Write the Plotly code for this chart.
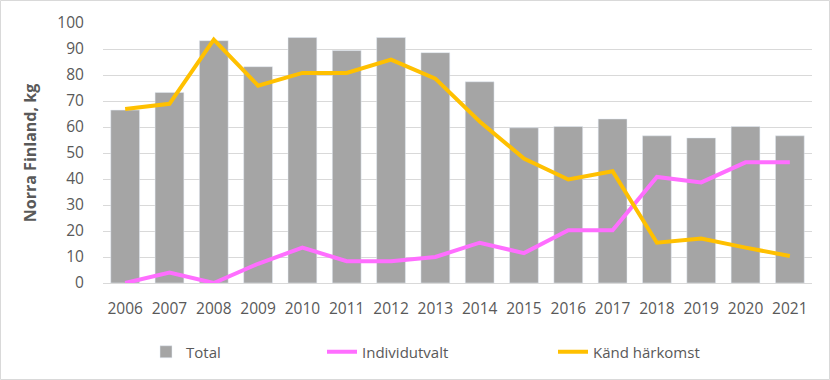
import plotly.graph_objects as go

years = [str(y) for y in range(2006, 2022)]
total = [66.5, 73.3, 93.2, 83.2, 94.4, 89.4, 94.4, 88.6, 77.4, 59.7, 60.2, 63.1, 56.6, 55.8, 60.2, 56.6]
individutvalt = [0, 4.0, 0, 7.4, 13.6, 8.4, 8.4, 10.0, 15.5, 11.5, 20.3, 20.3, 40.8, 38.7, 46.4, 46.4]
kand_harkomst = [66.9, 68.9, 93.6, 75.9, 80.8, 80.8, 85.9, 78.6, 62.1, 47.9, 39.8, 43.0, 15.5, 17.1, 13.6, 10.4]
y_ticks = list(range(0, 101, 10))

FONT = "Open Sans"
TXT = "#595959"

fig = go.Figure()
fig.add_trace(go.Bar(x=years, y=total, name="Total", marker_color="#A5A5A5", legend="legend",
                     hoverinfo="skip"))
fig.add_trace(go.Scatter(x=years, y=individutvalt, name="Individutvalt", mode="lines",
                         line=dict(color="#FF6EFF", width=4), legend="legend2", hoverinfo="skip"))
fig.add_trace(go.Scatter(x=years, y=kand_harkomst, name="Känd härkomst", mode="lines",
                         line=dict(color="#FFC000", width=4), legend="legend3", hoverinfo="skip"))

L, R, T, B = 103, 18, 23, 97
PW = 830 - L - R
PH = 380 - T - B

def px2x(px):
    return (px - L) / PW

def px2y(py):
    return (380 - B - py) / PH

leg_common = dict(orientation="h", yanchor="middle", xanchor="left",
                  font=dict(family=FONT, size=15, color=TXT), bgcolor="rgba(0,0,0,0)",
                  itemwidth=30)

fig.update_layout(
    width=830, height=380,
    margin=dict(l=L, r=R, t=T, b=B, autoexpand=False),
    paper_bgcolor="white", plot_bgcolor="white",
    bargap=0.35,
    showlegend=True,
    font=dict(family=FONT, color=TXT, size=15),
    legend=dict(x=px2x(146), y=px2y(352), **leg_common),
    legend2=dict(x=px2x(322), y=px2y(352), **leg_common),
    legend3=dict(x=px2x(553), y=px2y(352), **leg_common),
    xaxis=dict(type="category", showgrid=False, showline=False, ticks="outside",
               ticklen=11, tickcolor="rgba(0,0,0,0)", automargin=False,
               tickfont=dict(family=FONT, size=15.5, color=TXT)),
    yaxis=dict(range=[0, 100], tickvals=y_ticks, showgrid=True, gridcolor="#D9D9D9",
               gridwidth=1, zeroline=True, zerolinecolor="#D9D9D9", zerolinewidth=1,
               showline=False, ticks="outside", ticklen=15, tickcolor="rgba(0,0,0,0)",
               automargin=False,
               tickfont=dict(family=FONT, size=15.5, color=TXT),
               title=dict(text="<b>Norra Finland, kg</b>", standoff=16,
                          font=dict(family=FONT, size=16, color=TXT))),
    shapes=[dict(type="rect", xref="paper", yref="paper",
                 x0=px2x(0.5), x1=px2x(829.5), y0=px2y(379.5), y1=px2y(0.5),
                 line=dict(color="#D9D9D9", width=1), layer="below")],
)

fig.write_html("out.html", config={"displayModeBar": False},
               post_script="document.body.style.margin='0';document.body.style.overflow='hidden';")
